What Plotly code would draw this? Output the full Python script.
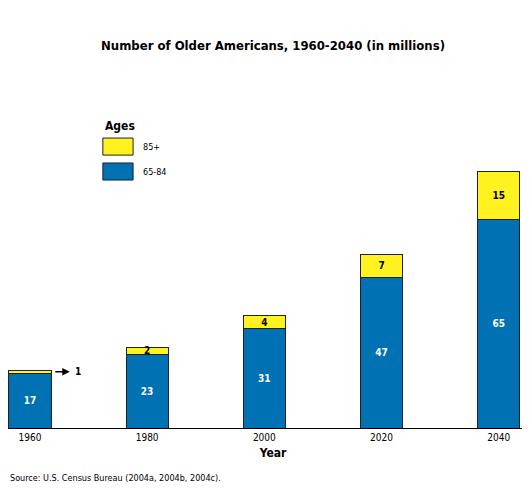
import plotly.graph_objects as go

years = [1960, 1980, 2000, 2020, 2040]
age_65_84 = [17, 23, 31, 47, 65]
age_85_plus = [1, 2, 4, 7, 15]
labels_85 = ["", "2", "4", "7", "15"]

blue = "#0071b3"
yellow = "#fff21f"
font_main = "DejaVu Sans Condensed, Liberation Sans Narrow, Liberation Sans, sans-serif"

fig = go.Figure()
fig.add_trace(go.Bar(
    x=years, y=age_65_84, name="65-84", marker=dict(color=blue, line=dict(color="#222", width=1)),
    text=[f"<b>{v}</b>" for v in age_65_84], textposition="inside", insidetextanchor="middle",
    textangle=0, constraintext="none",
    textfont=dict(color="white", size=10, family=font_main), width=7.2,
))
fig.add_trace(go.Bar(
    x=years, y=age_85_plus, name="85+", marker=dict(color=yellow, line=dict(color="#222", width=1)),
    text=[f"<b>{t}</b>" if t else "" for t in labels_85], textposition="inside", insidetextanchor="middle",
    textangle=0, constraintext="none",
    textfont=dict(color="black", size=10, family=font_main), width=7.2,
))

# arrow for the tiny 1960 85+ segment
y_mid = age_65_84[0] + age_85_plus[0] / 2
fig.add_annotation(x=1966.8, y=y_mid, ax=-16, ay=0, text="", showarrow=True, arrowhead=2,
                   arrowsize=1, arrowwidth=1.5, arrowcolor="black")
fig.add_annotation(x=1967.3, y=y_mid, text="<b>1</b>", showarrow=False, xanchor="left",
                   font=dict(size=10, family=font_main))

# legend
fig.add_annotation(x=0.179, y=0.921, xref="paper", yref="paper", text="<b>Ages</b>", showarrow=False,
                   xanchor="left", yanchor="middle", font=dict(size=12, family=font_main))
for nm, col, y0, y1 in [("85+", yellow, 0.832, 0.884), ("65-84", blue, 0.756, 0.808)]:
    fig.add_shape(type="rect", xref="paper", yref="paper", x0=0.179, x1=0.236, y0=y0, y1=y1,
                  fillcolor=col, line=dict(color="#222", width=1))
    fig.add_annotation(x=0.25, y=(y0 + y1) / 2, xref="paper", yref="paper", text=nm, showarrow=False,
                       xanchor="left", yanchor="middle", font=dict(size=9, family=font_main))

fig.add_annotation(x=0.0, y=-0.152, xref="paper", yref="paper",
                   text="Source: U.S. Census Bureau (2004a, 2004b, 2004c).",
                   showarrow=False, xanchor="left", yanchor="middle", font=dict(size=9, family=font_main))

fig.update_layout(
    barmode="stack", width=530, height=500, showlegend=False,
    paper_bgcolor="white", plot_bgcolor="white",
    margin=dict(l=0, r=0, t=92, b=80),
    title=dict(text="<b>Number of Older Americans, 1960-2040 (in millions)</b>", x=0.5, y=0.926,
               xanchor="center", yanchor="middle", font=dict(size=13, family=font_main, color="black")),
    font=dict(family=font_main, color="black"),
)
fig.update_xaxes(range=[1956.26, 2046.7], tickvals=years, ticktext=[str(y) for y in years],
                 showline=True, linecolor="black", linewidth=1, showgrid=False, ticks="",
                 tickfont=dict(size=10), title=dict(text="<b>Year</b>", font=dict(size=12), standoff=6))
fig.update_yaxes(range=[0, 102.2], visible=False)

fig.write_html("out.html")
